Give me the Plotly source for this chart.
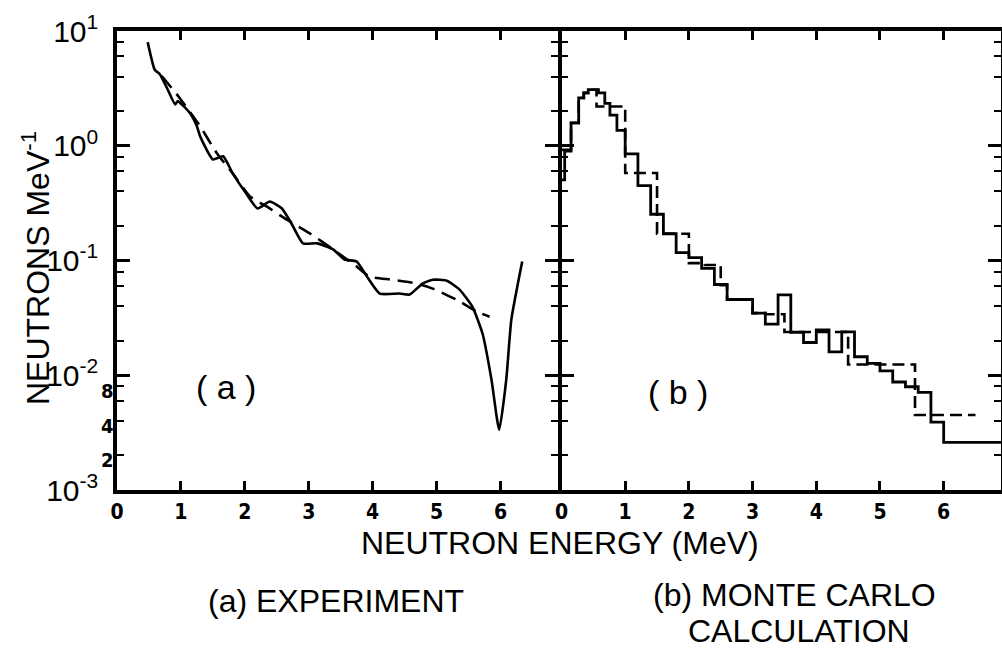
import math
import plotly.graph_objects as go

# ---------------- data ----------------
# (a) experiment: measured spectrum (solid) and fitted curve (dashed)
exp_x = [0.48, 0.59, 0.67, 0.78, 0.91, 0.95, 1.14, 1.25, 1.30, 1.50, 1.66, 1.81, 2.03, 2.20,
         2.39, 2.58, 2.73, 2.91, 3.13, 3.38, 3.56, 3.75, 3.91, 4.11, 4.42, 4.58, 4.78, 4.94,
         5.16, 5.36, 5.56, 5.72, 5.86, 5.98, 6.09, 6.17, 6.34]
exp_y = [8.0, 4.6, 4.2, 3.2, 2.29, 2.45, 1.93, 1.48, 1.21, 0.76, 0.81, 0.575, 0.377, 0.284,
         0.327, 0.284, 0.21, 0.141, 0.141, 0.125, 0.102, 0.098, 0.0725, 0.0515, 0.0515, 0.0505,
         0.063, 0.068, 0.0667, 0.0558, 0.0396, 0.023, 0.0091, 0.00334, 0.0091, 0.0305, 0.098]

fit_x = [0.70, 0.98, 1.30, 1.56, 1.81, 2.08, 2.34, 2.65, 3.02, 3.38, 3.75, 3.95, 4.31, 4.69,
         4.94, 5.31, 5.63, 5.83]
fit_y = [4.05, 2.61, 1.48, 0.865, 0.575, 0.362, 0.296, 0.228, 0.172, 0.125, 0.0887, 0.0725,
         0.068, 0.063, 0.0569, 0.0456, 0.0359, 0.0324]

# (b) Monte Carlo histograms: bin edges (MeV) and contents (neutrons/MeV)
mc_solid_edges = [0, 0.05, 0.15, 0.27, 0.35, 0.42, 0.58, 0.68, 0.76, 0.87, 1.0, 1.2, 1.4, 1.6,
                  1.8, 2.0, 2.2, 2.4, 2.6, 3.0, 3.2, 3.4, 3.6, 3.8, 4.0, 4.2, 4.4, 4.6, 4.8,
                  5.0, 5.2, 5.4, 5.6, 5.8, 6.0, 6.92]
mc_solid_vals = [0.505, 0.90, 1.58, 2.61, 2.89, 3.08, 2.89, 2.34, 1.85, 1.36, 0.85, 0.449,
                 0.253, 0.171, 0.117, 0.106, 0.0855, 0.0618, 0.0457, 0.0348, 0.0279, 0.0502,
                 0.0237, 0.0193, 0.0249, 0.016, 0.0239, 0.0145, 0.0127, 0.0109, 0.00873,
                 0.00794, 0.0071, 0.0039, 0.0026]

mc_dash_edges = [0, 0.15, 0.27, 0.35, 0.42, 0.55, 1.0, 1.5, 2.0, 2.25, 2.5, 2.6, 3.0, 3.2,
                 3.5, 4.5, 5.55, 6.5]
mc_dash_vals = [0.92, 1.58, 2.61, 2.89, 3.08, 2.2, 0.578, 0.171, 0.0949, 0.0914, 0.061,
                0.0457, 0.0348, 0.034, 0.0238, 0.0124, 0.0045]

x_ticks = [0, 1, 2, 3, 4, 5, 6]
x_ticktext = ["0", "1", "2", "3", "4", "5", "6"]
y_ticks = [1e-3, 1e-2, 1e-1, 1, 10]
y_ticktext = ["10<sup>-3</sup>", "10<sup>-2</sup>", "10<sup>-1</sup>", "10<sup>0</sup>", "10<sup>1</sup>"]
y_minor = [2e-3, 4e-3, 6e-3, 8e-3, 2e-2, 4e-2, 6e-2, 8e-2, 0.2, 0.4, 0.6, 0.8, 2, 4, 6, 8]
small_labels = ["8", "4", "2"]
small_label_vals = [8e-3, 4e-3, 2e-3]

# ---------------- figure ----------------
W, H = 1002, 649
FONT = "Liberation Sans, Arial, sans-serif"
NARROW = "Liberation Sans Narrow, DejaVu Sans Condensed, Liberation Sans, sans-serif"
LW = 3.5


def step_xy(edges, vals):
    return list(edges), list(vals) + [vals[-1]]


fig = go.Figure()

fig.add_trace(go.Scatter(x=exp_x, y=exp_y, mode="lines", xaxis="x", yaxis="y",
                         line=dict(color="black", width=2.6, shape="spline", smoothing=0.5),
                         showlegend=False, hoverinfo="skip"))
fig.add_trace(go.Scatter(x=fit_x, y=fit_y, mode="lines", xaxis="x", yaxis="y",
                         line=dict(color="black", width=2.6, dash="15px,8px", shape="spline",
                                   smoothing=0.6),
                         showlegend=False, hoverinfo="skip"))

dx, dy = step_xy(mc_dash_edges, mc_dash_vals)
fig.add_trace(go.Scatter(x=dx, y=dy, mode="lines", xaxis="x2", yaxis="y2",
                         line=dict(color="black", width=2.6, dash="12px,6px", shape="hv"),
                         showlegend=False, hoverinfo="skip"))
sx, sy = step_xy(mc_solid_edges, mc_solid_vals)
fig.add_trace(go.Scatter(x=sx, y=sy, mode="lines", xaxis="x2", yaxis="y2",
                         line=dict(color="black", width=2.8, shape="hv"),
                         showlegend=False, hoverinfo="skip"))

ydom = [1 - 490 / H, 1 - 31 / H]

xcommon = dict(showgrid=False, zeroline=False, showline=True, linecolor="black", linewidth=LW,
               mirror="ticks", ticks="inside", ticklen=9, tickwidth=2.5, tickcolor="black",
               tickmode="array", tickvals=x_ticks, ticktext=x_ticktext,
               tickfont=dict(family=NARROW, size=21, color="black", weight="bold"),
               ticklabelstandoff=0, automargin=False, fixedrange=True)
ycommon = dict(type="log", range=[-3, 1], domain=ydom, showgrid=False, zeroline=False,
               showline=True, linecolor="black", linewidth=LW, mirror="ticks",
               ticks="inside", ticklen=13, tickwidth=2.5, tickcolor="black",
               tickmode="array", tickvals=y_ticks, ticktext=y_ticktext,
               minor=dict(tickmode="array", tickvals=y_minor, ticks="inside", ticklen=7,
                          tickwidth=2, tickcolor="black", showgrid=False),
               automargin=False, fixedrange=True)

left_end = 558
right_start = left_end + LW  # so the two panel borders coincide as one divider line

fig.update_layout(
    width=W, height=H, autosize=False,
    margin=dict(l=0, r=0, t=0, b=0, pad=0),
    paper_bgcolor="white", plot_bgcolor="white",
    xaxis=dict(xcommon, domain=[117 / W, left_end / W], range=[0, 6.9], anchor="y"),
    xaxis2=dict(xcommon, domain=[right_start / W, 1001 / W], range=[0, 6.9], anchor="y2"),
    yaxis=dict(ycommon, anchor="x",
               tickfont=dict(family=FONT, size=30, color="black"), ticklabelstandoff=9),
    yaxis2=dict(ycommon, anchor="x2", showticklabels=False),
)


def ann(text, x, y, size, **kw):
    d = dict(text=text, x=x / W, y=1 - y / H, xref="paper", yref="paper", showarrow=False,
             xanchor="center", yanchor="middle",
             font=dict(family=FONT, size=size, color="black"))
    d.update(kw)
    return d


annotations = [
    ann("NEUTRONS MeV<sup>-1</sup>", 36, 268, 32, textangle=-90),
    ann("NEUTRON ENERGY (MeV)", 560, 543, 32),
    ann("(a) EXPERIMENT", 336, 601, 32),
    ann("(b) MONTE CARLO", 794, 595, 32),
    ann("CALCULATION", 799, 631, 32),
    ann("( a )", 226, 387, 34),
    ann("( b )", 678, 392, 34),
]
for lab, v in zip(small_labels, small_label_vals):
    annotations.append(dict(text="<b>" + lab + "</b>", x=107 / W, xref="paper",
                            y=math.log10(v), yref="y", yshift=-5, showarrow=False,
                            xanchor="center", yanchor="middle",
                            font=dict(family=NARROW, size=20, color="black")))
fig.update_layout(annotations=annotations)

fig.write_html("out.html", config={"displayModeBar": False})
